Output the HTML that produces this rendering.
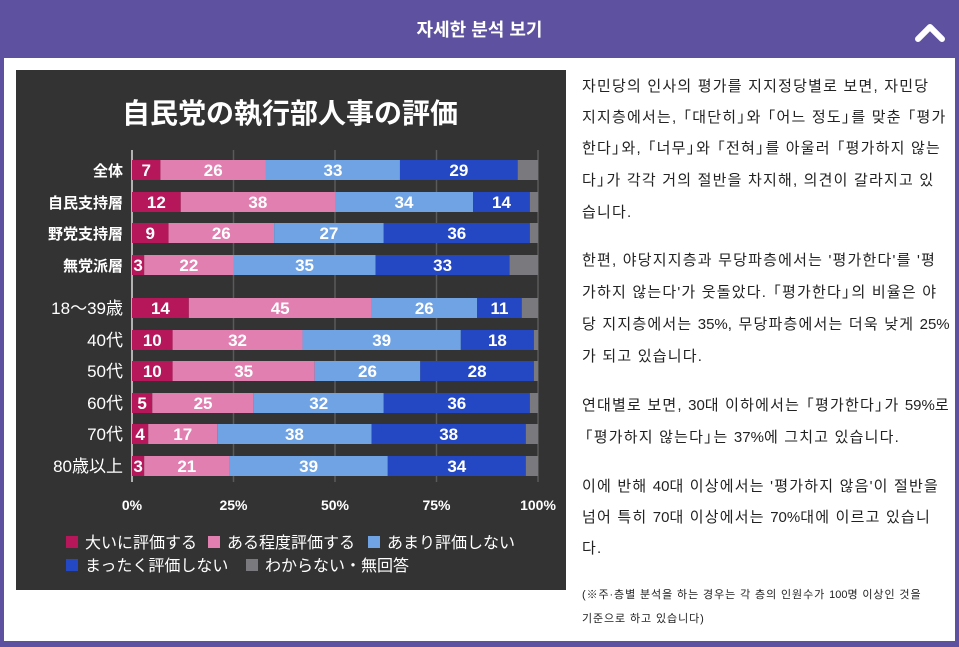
<!DOCTYPE html>
<html><head><meta charset="utf-8"><style>
body{margin:0;width:959px;height:647px;background:#5e52a0;position:relative;overflow:hidden;font-family:"Liberation Sans","Noto Sans CJK KR",sans-serif}
#panel{position:absolute;left:4px;top:58px;width:951px;height:583px;background:#fff}
#hdr{position:absolute;left:0;top:0;width:959px;height:58px;color:#fff;font-weight:bold;font-size:18px;text-align:center;line-height:60px}
.t{position:absolute;left:582px;font-size:15px;letter-spacing:1.2px;color:#222;white-space:nowrap;line-height:20px}
.s{font-size:11px;letter-spacing:0.9px}
.o{margin-left:-0.45em}.c{margin-right:-0.45em}.n{letter-spacing:0}
svg text{font-family:"Liberation Sans","Noto Sans CJK JP",sans-serif}
</style></head><body>
<div id="hdr">자세한 분석 보기</div>
<svg style="position:absolute;left:914px;top:20px" width="32" height="24"><polyline points="4,19 16,7 28,19" fill="none" stroke="#fff" stroke-width="6" stroke-linecap="round" stroke-linejoin="round"/></svg>
<div id="panel"></div>
<svg id="ch" style="position:absolute;left:0;top:0" width="959" height="647"></svg>
<div class="t" style="top:77px">자민당의 인사의 평가를 지지정당별로 보면, 자민당</div>
<div class="t" style="top:108px">지지층에서는, <span class="o">「</span>대단히<span class="c">」</span>와 <span class="o">「</span>어느 정도<span class="c">」</span>를 맞춘 <span class="o">「</span>평가</div>
<div class="t" style="top:139px">한다<span class="c">」</span>와, <span class="o">「</span>너무<span class="c">」</span>와 <span class="o">「</span>전혀<span class="c">」</span>를 아울러 <span class="o">「</span>평가하지 않는</div>
<div class="t" style="top:171px">다<span class="c">」</span>가 각각 거의 절반을 차지해, 의견이 갈라지고 있</div>
<div class="t" style="top:203px">습니다.</div>
<div class="t" style="top:251px">한편, 야당지지층과 무당파층에서는 '평가한다'를 '평</div>
<div class="t" style="top:283px">가하지 않는다'가 웃돌았다. <span class="o">「</span>평가한다<span class="c">」</span>의 비율은 야</div>
<div class="t" style="top:315px">당 지지층에서는 <span class="n">35%</span>, 무당파층에서는 더욱 낮게 <span class="n">25%</span></div>
<div class="t" style="top:347px">가 되고 있습니다.</div>
<div class="t" style="top:396px">연대별로 보면, <span class="n">30</span>대 이하에서는 <span class="o">「</span>평가한다<span class="c">」</span>가 <span class="n">59%</span>로</div>
<div class="t" style="top:428px"><span class="o" style="margin-left:-0.3em">「</span>평가하지 않는다<span class="c">」</span>는 <span class="n">37%</span>에 그치고 있습니다.</div>
<div class="t" style="top:477px">이에 반해 <span class="n">40</span>대 이상에서는 '평가하지 않음'이 절반을</div>
<div class="t" style="top:508px">넘어 특히 <span class="n">70</span>대 이상에서는 <span class="n">70%</span>대에 이르고 있습니</div>
<div class="t" style="top:539px">다.</div>
<div class="t s" style="top:585px">(※주·층별 분석을 하는 경우는 각 층의 인원수가 <span class="n">100</span>명 이상인 것을</div>
<div class="t s" style="top:609px">기준으로 하고 있습니다)</div>
<script>
var NS="http://www.w3.org/2000/svg",svg=document.getElementById('ch');
function el(t,a,txt){var e=document.createElementNS(NS,t);for(var k in a)e.setAttribute(k,a[k]);if(txt!=null)e.textContent=txt;svg.appendChild(e);return e;}
el('rect',{x:16,y:70,width:550,height:520,fill:'#333'});
el('text',{x:290,y:123,'font-size':28,'font-weight':'bold',fill:'#fff','text-anchor':'middle'},'自民党の執行部人事の評価');
var x0=132,S=4.06;
[25,50,75,100].forEach(function(p){el('line',{x1:x0+p*S,x2:x0+p*S,y1:150,y2:482,stroke:'#5a5a5a','stroke-width':1.5});});
el('line',{x1:x0,x2:x0,y1:150,y2:482,stroke:'#ddd','stroke-width':1.5});
['0%','25%','50%','75%','100%'].forEach(function(l,i){el('text',{x:x0+i*25*S,y:510,'font-size':14,'font-weight':'bold',fill:'#fff','text-anchor':'middle'},l);});
var rows=[['全体',170,[7,26,33,29],1],['自民支持層',202,[12,38,34,14],1],['野党支持層',233,[9,26,27,36],1],['無党派層',265,[3,22,35,33],1],
['18～39歳',308,[14,45,26,11],0],['40代',340,[10,32,39,18],0],['50代',371,[10,35,26,28],0],['60代',403,[5,25,32,36],0],['70代',434,[4,17,38,38],0],['80歳以上',466,[3,21,39,34],0]];
var cols=['#b5175a','#e07fb0','#6fa3e4','#2448c4','#7a7a7e'];
rows.forEach(function(r){
 el('text',{x:123,y:r[1]+6,'font-size':r[3]?15:17,'font-weight':r[3]?'bold':'normal',fill:'#fff','text-anchor':'end'},r[0]);
 var c=0;
 r[2].forEach(function(v,i){var xa=x0+c*S;el('rect',{x:xa,y:r[1]-10,width:v*S,height:20,fill:cols[i]});
  el('text',{x:xa+v*S/2,y:r[1]+6,'font-size':17,'font-weight':'bold',fill:'#fff','text-anchor':'middle'},v);c+=v;});
 el('rect',{x:x0+c*S,y:r[1]-10,width:(100-c)*S,height:20,fill:cols[4]});
});
var leg=[[66,542,0,'大いに評価する'],[208,542,1,'ある程度評価する'],[368,542,2,'あまり評価しない'],[66,565,3,'まったく評価しない'],[246,565,4,'わからない・無回答']];
leg.forEach(function(l){el('rect',{x:l[0],y:l[1]-6,width:12,height:12,fill:cols[l[2]]});el('text',{x:l[0]+19,y:l[1]+6,'font-size':16,fill:'#fff'},l[3]);});
</script>
</body></html>
